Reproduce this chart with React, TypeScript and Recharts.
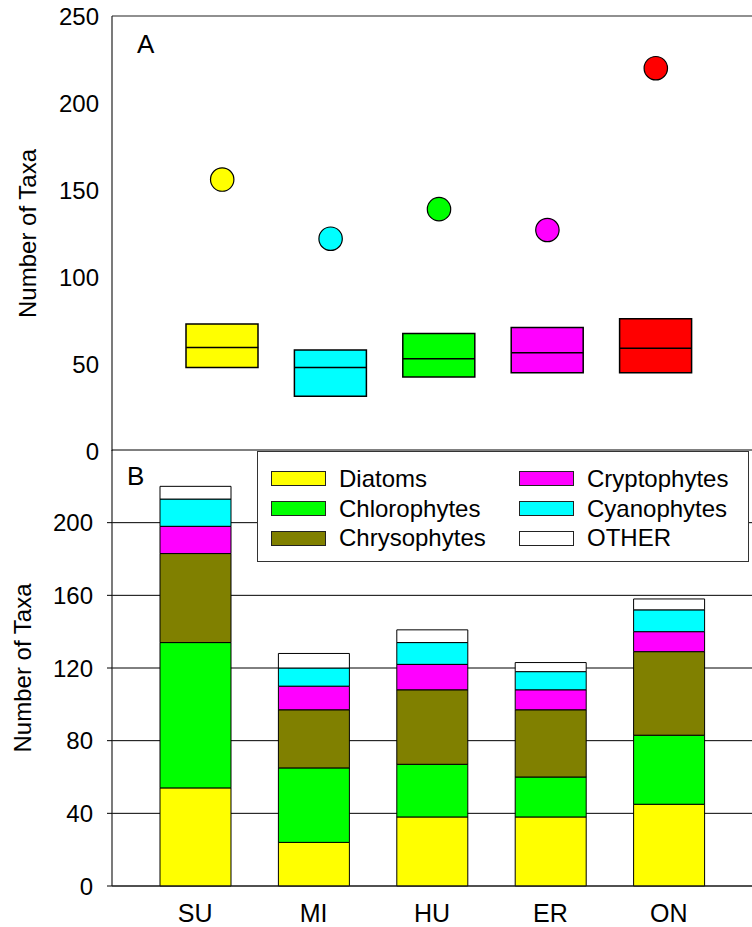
import React from "react";
import {
  ComposedChart,
  BarChart,
  Bar,
  Scatter,
  XAxis,
  YAxis,
  CartesianGrid,
  ReferenceLine,
  Legend,
  Cell,
} from "recharts";

const sites = ["SU", "MI", "HU", "ER", "ON"];

// Panel A: total taxa per site, plus spread of taxa per sample
const totalTaxa = [156, 122, 139, 127, 220];
const sampleMin = [48, 31.5, 42.5, 45, 45];
const sampleMax = [73, 58, 67.5, 71, 76];
const sampleMedian = [59.5, 48, 53, 56.5, 59];
const ticksA = [0, 50, 100, 150, 200, 250];

// Panel B: taxa by algal group
const groupNames = ["Diatoms", "Chlorophytes", "Chrysophytes", "Cryptophytes", "Cyanophytes", "OTHER"];
const diatoms = [54, 24, 38, 38, 45];
const chlorophytes = [80, 41, 29, 22, 38];
const chrysophytes = [49, 32, 41, 37, 46];
const cryptophytes = [15, 13, 14, 11, 11];
const cyanophytes = [15, 10, 12, 10, 12];
const other = [7, 8, 7, 5, 6];
const ticksB = [0, 40, 80, 120, 160, 200];

const siteColors = ["#ffff00", "#00ffff", "#00ff00", "#ff00ff", "#ff0000"];
const groupColors = ["#ffff00", "#00ff00", "#808000", "#ff00ff", "#00ffff", "#ffffff"];

const FONT = "'Liberation Sans', Arial, Helvetica, sans-serif";
const AXIS = "#222";

const dataA = sites.map((site, i) => ({
  site,
  total: totalTaxa[i],
  range: [sampleMin[i], sampleMax[i]],
  median: sampleMedian[i],
}));

const groupValues = [diatoms, chlorophytes, chrysophytes, cryptophytes, cyanophytes, other];
const dataB = sites.map((site, i) => {
  const row: Record<string, any> = { site };
  groupNames.forEach((g, k) => (row[g] = groupValues[k][i]));
  return row;
});

const colorOf = (site: string) => siteColors[sites.indexOf(site)];

const TotalDot = (p: any) => (
  <circle cx={p.cx} cy={p.cy} r={11.7} fill={colorOf(p.payload.site)} stroke="#000" strokeWidth={1.2} />
);

const MedianLine = (p: any) => (
  <line x1={p.cx - 36} x2={p.cx + 36} y1={p.cy} y2={p.cy} stroke="#000" strokeWidth={1.5} />
);

function GroupLegend({ payload }: any) {
  const items = groupNames.map((name, k) => {
    const hit = (payload || []).find((p: any) => p.value === name);
    return { name, color: hit?.color ?? groupColors[k] };
  });
  const rows = [27, 57, 86.5];
  return (
    <div
      style={{
        position: "relative",
        width: 492,
        height: 111,
        boxSizing: "border-box",
        border: "1.5px solid #333",
        background: "#fff",
        fontFamily: FONT,
        fontSize: 24,
        color: "#000",
      }}
    >
      {items.map((it, k) => {
        const col = Math.floor(k / 3);
        const cy = rows[k % 3];
        const left = 13 + col * 248;
        return (
          <React.Fragment key={it.name}>
            <div
              style={{
                position: "absolute",
                left,
                top: cy - 8,
                width: 55,
                height: 15,
                boxSizing: "border-box",
                border: "1.5px solid #222",
                background: it.color,
              }}
            />
            <div
              style={{
                position: "absolute",
                left: left + 68,
                top: cy - 12.5,
                lineHeight: "24px",
                whiteSpace: "nowrap",
              }}
            >
              {it.name}
            </div>
          </React.Fragment>
        );
      })}
    </div>
  );
}

export default function App() {
  return (
    <div
      style={{
        position: "absolute",
        left: 0,
        top: 0,
        width: 752,
        height: 927,
        overflow: "hidden",
        background: "#fff",
        fontFamily: FONT,
      }}
    >
      {/* A: totals (circles) and sample range with median (boxes) */}
      <div style={{ position: "absolute", left: 0, top: 0 }}>
        <ComposedChart width={766} height={472} data={dataA} margin={{ top: 16, right: 0, bottom: 21, left: 0 }}>
          <XAxis
            dataKey="site"
            height={0}
            tick={false}
            tickLine={false}
            padding={{ left: 56, right: 56 }}
            axisLine={{ stroke: AXIS, strokeWidth: 1.2 }}
          />
          <YAxis
            width={112}
            domain={[0, 250]}
            ticks={ticksA}
            interval={0}
            tickLine={false}
            tickSize={0}
            tickMargin={13}
            axisLine={{ stroke: AXIS, strokeWidth: 1.2 }}
            tick={{ fontSize: 24, fill: "#000", fontFamily: FONT }}
            label={{
              value: "Number of Taxa",
              angle: -90,
              position: "insideLeft",
              offset: 27,
              style: { textAnchor: "middle", fontSize: 24, fill: "#000", fontFamily: FONT },
            }}
          />
          <ReferenceLine y={250} stroke={AXIS} strokeWidth={1.2} />
          <Bar dataKey="range" barSize={72} stroke="#000" strokeWidth={1.5} isAnimationActive={false}>
            {sites.map((s, i) => (
              <Cell key={s} fill={siteColors[i]} />
            ))}
          </Bar>
          <Scatter dataKey="median" shape={MedianLine} isAnimationActive={false} />
          <Scatter dataKey="total" shape={TotalDot} isAnimationActive={false} />
        </ComposedChart>
      </div>

      {/* B: stacked taxa by algal group */}
      <div style={{ position: "absolute", left: 0, top: 440 }}>
        <BarChart width={752} height={487} data={dataB} margin={{ top: 10, right: 0, bottom: 0, left: 0 }}>
          <CartesianGrid vertical={false} stroke="#000" strokeWidth={1} />
          <XAxis
            dataKey="site"
            height={41}
            padding={{ left: 24, right: 24 }}
            tickLine={false}
            tickSize={0}
            tickMargin={18}
            axisLine={{ stroke: AXIS, strokeWidth: 1.2 }}
            tick={{ fontSize: 25, fill: "#000", fontFamily: FONT }}
          />
          <YAxis
            width={112}
            domain={[0, 240]}
            ticks={ticksB}
            interval={0}
            tickSize={5}
            tickMargin={14}
            tickLine={{ stroke: "#000" }}
            axisLine={{ stroke: AXIS, strokeWidth: 1.2 }}
            tick={{ fontSize: 24, fill: "#000", fontFamily: FONT }}
            label={{
              value: "Number of Taxa",
              angle: -90,
              position: "insideLeft",
              offset: 22,
              style: { textAnchor: "middle", fontSize: 24, fill: "#000", fontFamily: FONT },
            }}
          />
          {groupNames.map((g, k) => (
            <Bar
              key={g}
              dataKey={g}
              stackId="taxa"
              barSize={71}
              fill={groupColors[k]}
              stroke="#000"
              strokeWidth={1}
              isAnimationActive={false}
            />
          ))}
          <Legend
            layout="horizontal"
            verticalAlign="middle"
            align="center"
            width={492}
            height={111}
            wrapperStyle={{ left: 257, top: 11, width: 492, height: 111 }}
            content={GroupLegend}
          />
        </BarChart>
      </div>

      <svg
        width={752}
        height={927}
        style={{ position: "absolute", left: 0, top: 0, pointerEvents: "none" }}
        fontFamily={FONT}
      >
        <text x={137} y={53} fontSize={26} fill="#000">A</text>
        <text x={127} y={485} fontSize={26} fill="#000">B</text>
      </svg>
    </div>
  );
}
